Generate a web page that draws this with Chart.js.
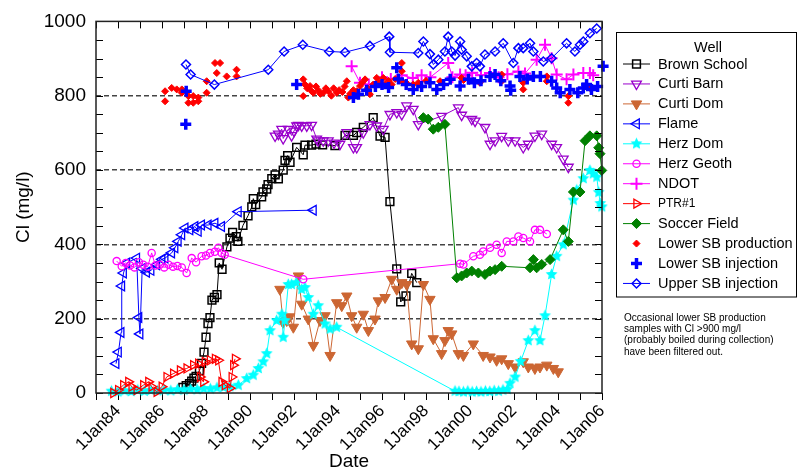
<!DOCTYPE html>
<html><head><meta charset="utf-8">
<script src="https://cdn.jsdelivr.net/npm/chart.js@4.4.0/dist/chart.umd.min.js"></script>
<style>html,body{margin:0;padding:0;background:#fff;overflow:hidden}canvas{display:block}</style>
</head><body>
<canvas id="c" width="797" height="471"></canvas>
<script>
const FONT = '"Liberation Sans", Arial, Helvetica, sans-serif';

// ---- tick labels ----
const xTickYears = [1984, 1986, 1988, 1990, 1992, 1994, 1996, 1998, 2000, 2002, 2004, 2006];
const xTickLabels = ['1Jan84', '1Jan86', '1Jan88', '1Jan90', '1Jan92', '1Jan94', '1Jan96', '1Jan98', '1Jan00', '1Jan02', '1Jan04', '1Jan06'];
const yTickLabels = [0, 200, 400, 600, 800, 1000];

const seriesNames = ['Brown School', 'Curti Barn', 'Curti Dom', 'Flame', 'Herz Dom', 'Herz Geoth', 'NDOT', 'PTR#1', 'Soccer Field', 'Lower SB production', 'Lower SB injection', 'Upper SB injection'];

// ---- data: [decimal year, Cl mg/l] ----
const brownSchool = [[1986.95,15],[1987.1,20],[1987.25,25],[1987.35,32],[1987.45,40],[1987.55,45],[1987.7,60],[1987.8,80],[1987.91,110],[1988.0,150],[1988.09,187],[1988.18,203],[1988.27,250],[1988.38,257],[1988.5,265],[1988.6,350],[1988.73,333],[1988.95,393],[1989.09,417],[1989.21,432],[1989.38,421],[1989.45,408],[1989.68,451],[1989.91,477],[1990.08,501],[1990.15,523],[1990.26,507],[1990.53,528],[1990.59,541],[1990.76,549],[1990.82,561],[1990.99,577],[1991.14,587],[1991.29,576],[1991.51,600],[1991.59,626],[1991.71,639],[1991.82,621],[1992.12,661],[1992.42,641],[1992.5,667],[1992.8,667],[1993.0,670],[1993.3,668],[1993.86,666],[1994.32,693],[1994.7,693],[1994.85,701],[1995.15,715],[1995.6,741],[1995.91,691],[1996.14,688],[1996.36,515],[1996.67,334],[1996.85,245],[1997.09,261],[1997.35,322],[1997.58,297]];
const curtiBarn = [[1991.14,692],[1991.29,697],[1991.44,710],[1991.51,685],[1991.74,710],[1991.89,693],[1992.0,705],[1992.12,719],[1992.2,721],[1992.35,719],[1992.58,719],[1992.8,721],[1993.03,684],[1993.1,679],[1993.33,679],[1993.56,679],[1993.82,673],[1994.09,670],[1994.4,701],[1994.7,661],[1994.85,661],[1995.15,701],[1995.45,723],[1995.76,719],[1996.06,710],[1996.36,750],[1996.67,755],[1996.9,750],[1997.12,773],[1997.42,764],[1997.65,723],[1998.71,745],[1999.47,768],[1999.62,748],[2000.08,737],[2000.23,732],[2000.68,715],[2000.91,670],[2001.14,679],[2001.44,691],[2001.74,679],[2002.05,679],[2002.42,661],[2002.65,670],[2002.95,692],[2003.26,697],[2003.71,670],[2003.94,661],[2004.24,630],[2004.47,608]];
const curtiDom = [[1991.36,279],[1991.5,190],[1991.67,195],[1991.8,205],[1991.97,177],[1992.2,315],[1992.35,239],[1992.65,199],[1992.88,128],[1993.18,195],[1993.41,208],[1993.64,101],[1993.94,243],[1994.17,235],[1994.4,261],[1994.62,208],[1994.85,177],[1995.15,212],[1995.38,168],[1995.68,199],[1995.83,248],[1996.14,257],[1996.44,306],[1996.67,279],[1996.9,297],[1997.12,292],[1997.35,132],[1997.65,119],[1997.88,292],[1998.18,252],[1998.33,146],[1998.71,106],[1998.86,141],[1999.01,168],[1999.17,159],[1999.47,106],[1999.7,101],[2000.15,132],[2000.6,101],[2000.91,97],[2001.21,88],[2001.44,92],[2001.74,79],[2002.05,70],[2002.42,84],[2002.65,70],[2002.95,66],[2003.18,70],[2003.49,75],[2003.79,66],[2004.01,57]];
const flame = [[1983.91,79],[1984.02,110],[1984.14,163],[1984.17,288],[1984.25,323],[1984.4,350],[1984.85,363],[1984.95,203],[1985.0,159],[1985.1,335],[1985.3,325],[1985.5,330],[1985.76,345],[1986.0,360],[1986.14,363],[1986.44,377],[1986.59,391],[1986.74,408],[1986.9,426],[1987.05,444],[1987.27,439],[1987.5,448],[1987.65,435],[1987.8,452],[1988.1,452],[1988.41,457],[1988.71,448],[1989.47,488],[1992.88,492]];
const herzDom = [[1983.7,5],[1984.0,3],[1984.3,6],[1984.6,4],[1984.9,8],[1985.2,5],[1985.5,7],[1985.8,6],[1986.1,8],[1986.4,6],[1986.7,9],[1987.0,8],[1987.3,10],[1987.6,9],[1987.9,12],[1988.2,11],[1988.5,14],[1988.8,15],[1989.09,17],[1989.47,21],[1989.85,39],[1990.15,48],[1990.38,66],[1990.6,84],[1990.76,106],[1990.91,168],[1991.21,195],[1991.45,212],[1991.51,150],[1991.59,195],[1991.74,292],[1991.89,292],[1992.1,297],[1992.35,279],[1992.5,284],[1992.65,257],[1992.88,212],[1993.1,235],[1993.41,186],[1993.64,172],[1993.94,177],[1999.32,5],[1999.5,4],[1999.7,3],[1999.9,5],[2000.1,3],[2000.3,4],[2000.5,3],[2000.7,5],[2000.9,4],[2001.1,6],[2001.3,5],[2001.5,8],[2001.7,10],[2001.82,26],[2002.05,43],[2002.3,85],[2002.65,141],[2002.95,168],[2003.18,141],[2003.41,208],[2003.71,319],[2003.94,368],[2004.24,399],[2004.7,519],[2004.85,546],[2005.15,577],[2005.45,599],[2005.6,590],[2005.76,581],[2005.85,540],[2005.92,510],[2005.99,501]];
const herzGeoth = [[1983.94,355],[1984.17,341],[1984.35,350],[1984.55,343],[1984.75,338],[1984.95,352],[1985.15,345],[1985.35,340],[1985.53,377],[1985.7,343],[1985.9,345],[1986.1,338],[1986.3,345],[1986.5,340],[1986.7,342],[1986.9,338],[1987.12,323],[1987.35,363],[1987.55,352],[1987.8,368],[1988.0,370],[1988.18,377],[1988.4,380],[1988.56,391],[1988.71,377],[1988.85,372],[1992.42,306],[1999.55,348],[1999.7,346],[2000.15,368],[2000.45,372],[2000.6,381],[2000.91,391],[2001.21,399],[2001.44,377],[2001.67,408],[2001.97,408],[2002.2,421],[2002.42,417],[2002.73,408],[2002.95,439],[2003.18,439],[2003.49,428]];
const ndot = [[1994.62,879],[1995.0,835],[1995.4,830],[1996.0,850],[1996.4,845],[1996.9,855],[1997.4,848],[1997.8,855],[1998.2,850],[1999.01,888],[1999.2,850],[1999.55,857],[1999.8,855],[2000.1,862],[2000.5,855],[2000.91,861],[2001.3,850],[2001.7,858],[2002.2,865],[2002.5,860],[2003.03,897],[2003.41,937],[2003.71,901],[2003.94,857],[2004.39,844],[2004.7,857],[2005.15,861],[2005.45,861],[2005.6,855]];
const ptr1 = [[1983.79,0],[1984.01,8],[1984.24,21],[1984.47,30],[1984.62,17],[1984.85,8],[1985.15,21],[1985.38,30],[1985.53,17],[1985.76,3],[1985.99,17],[1986.21,43],[1986.51,52],[1986.82,61],[1987.12,66],[1987.42,75],[1987.65,79],[1987.73,43],[1987.88,30],[1987.95,84],[1988.18,88],[1988.41,92],[1988.56,88],[1988.71,30],[1988.86,21],[1989.09,13],[1989.17,43],[1989.24,75],[1989.32,92]];
const soccerField = [[1997.88,741],[1998.1,737],[1998.33,710],[1998.56,715],[1998.86,723],[1999.4,310],[1999.62,315],[1999.85,323],[2000.08,328],[2000.38,323],[2000.68,319],[2000.91,328],[2001.14,332],[2001.44,341],[2002.73,337],[2002.88,359],[2003.03,337],[2003.26,346],[2003.64,359],[2004.24,439],[2004.47,408],[2004.7,541],[2005.0,541],[2005.23,679],[2005.45,692],[2005.76,692],[2005.85,660],[2005.91,644],[2005.99,599]];
const lowerSBProduction = [[1986.14,812],[1986.14,785],[1986.44,821],[1986.67,817],[1986.9,817],[1986.9,808],[1987.2,799],[1987.42,799],[1987.2,781],[1987.42,781],[1987.65,785],[1987.65,795],[1988.03,808],[1988.03,839],[1988.41,888],[1988.64,888],[1988.49,861],[1988.94,852],[1989.39,870],[1989.39,852],[1992.42,844],[1992.42,799],[1992.5,830],[1992.6,820],[1992.73,826],[1992.8,812],[1992.88,808],[1993.0,825],[1993.1,815],[1993.2,805],[1993.33,808],[1993.45,820],[1993.56,812],[1993.7,800],[1993.8,820],[1993.94,808],[1994.05,815],[1994.2,810],[1994.3,825],[1994.4,839],[1994.47,795],[1994.55,805],[1994.7,815],[1994.85,812],[1995.0,826],[1995.1,835],[1995.23,844],[1995.35,820],[1995.45,804],[1995.6,830],[1995.76,848],[1995.9,835],[1996.06,848],[1996.14,830],[1996.3,840],[1996.44,830],[1996.6,845],[1996.9,888],[1996.9,866],[1996.9,839],[1997.1,835],[1997.42,830],[1997.65,835],[1998.0,840],[1998.64,839],[1999.62,848],[1999.7,842],[2000.45,835],[2001.44,857],[2001.44,839],[2002.42,835],[2002.42,817],[2003.49,852],[2003.49,839],[2004.47,799],[2004.47,781],[2005.45,821]];
const lowerSBInjection = [[1987.08,723],[1987.1,812],[1992.12,830],[1994.7,795],[1994.93,804],[1995.3,815],[1995.7,825],[1996.0,830],[1996.3,822],[1996.67,875],[1996.75,845],[1997.1,830],[1997.42,817],[1997.8,825],[1998.18,835],[1998.49,817],[1998.8,830],[1999.1,844],[1999.55,826],[1999.93,844],[2000.2,835],[2000.5,840],[2000.91,852],[2001.14,857],[2001.4,840],[2001.82,826],[2001.85,815],[2002.27,852],[2002.6,845],[2002.88,852],[2003.2,852],[2003.71,839],[2003.94,821],[2004.1,808],[2004.54,817],[2004.9,808],[2005.15,821],[2005.3,830],[2005.52,817],[2005.8,825],[2006.05,879],[2006.05,817]];
const upperSBInjection = [[1987.09,884],[1987.3,857],[1988.38,830],[1990.83,870],[1991.55,919],[1992.4,937],[1993.6,919],[1994.32,917],[1995.45,934],[1996.33,959],[1996.36,917],[1997.65,915],[1997.88,946],[1998.18,912],[1998.33,884],[1998.56,897],[1998.86,919],[1999.01,959],[1999.17,919],[1999.32,908],[1999.55,946],[1999.62,924],[1999.85,906],[2000.08,879],[2000.3,888],[2000.45,879],[2000.68,911],[2001.14,919],[2001.51,941],[2001.97,888],[2002.2,928],[2002.42,928],[2002.73,941],[2002.88,919],[2003.33,892],[2003.71,901],[2004.39,941],[2004.77,919],[2005.0,937],[2005.15,946],[2005.45,968],[2005.76,981]];

const seriesData = [brownSchool, curtiBarn, curtiDom, flame, herzDom, herzGeoth, ndot, ptr1, soccerField, lowerSBProduction, lowerSBInjection, upperSBInjection];

// ---- styles ----
function makeStar(color, r) {
  const s = Math.ceil(r * 2 + 2);
  const c = document.createElement('canvas');
  c.width = s; c.height = s;
  const g = c.getContext('2d');
  g.beginPath();
  for (let i = 0; i < 10; i++) {
    const a = -Math.PI / 2 + i * Math.PI / 5;
    const rr = (i % 2) ? r * 0.48 : r;
    g.lineTo(s / 2 + rr * Math.cos(a), s / 2 + rr * Math.sin(a));
  }
  g.closePath(); g.fillStyle = color; g.fill();
  return c;
}
const T = 'rgba(0,0,0,0)';
const styles = [
  {color:'#000000', ps:'rect', rot:0, r:5.5, fill:T, bw:1.5, line:true},
  {color:'#9900cc', ps:'triangle', rot:180, r:5.6, fill:T, bw:1.3, line:true},
  {color:'#cc6633', ps:'triangle', rot:180, r:6, fill:'#cc6633', bw:1, line:true},
  {color:'#0000ff', ps:'triangle', rot:-90, r:5.6, fill:T, bw:1.3, line:true},
  {color:'#00ffff', ps:makeStar('#00ffff', 6.2), rot:0, r:6, fill:'#00ffff', bw:1, line:true},
  {color:'#ff00ff', ps:'circle', rot:0, r:3.6, fill:T, bw:1.3, line:true},
  {color:'#ff00ff', ps:'cross', rot:0, r:6, fill:T, bw:2, line:true},
  {color:'#ff0000', ps:'triangle', rot:90, r:5.2, fill:T, bw:1.3, line:true},
  {color:'#008000', ps:'rectRot', rot:0, r:5, fill:'#008000', bw:1, line:true},
  {color:'#ff0000', ps:'rectRot', rot:0, r:3.5, fill:'#ff0000', bw:1, line:false},
  {color:'#0000ff', ps:'cross', rot:0, r:5.5, fill:'#0000ff', bw:3.5, line:false},
  {color:'#0000ff', ps:'rectRot', rot:0, r:4.5, fill:T, bw:1.5, line:true}
];

const datasets = seriesData.map((arr, i) => {
  const st = styles[i];
  return {
    label: seriesNames[i],
    data: arr.map(p => ({x: p[0], y: p[1]})),
    showLine: st.line,
    borderColor: st.color,
    backgroundColor: st.fill,
    borderWidth: 1,
    tension: 0,
    pointStyle: st.ps,
    pointRotation: st.rot,
    pointRadius: st.r,
    pointBorderWidth: st.bw,
    pointBorderColor: st.color,
    pointBackgroundColor: st.fill,
    pointHoverRadius: st.r,
    order: seriesData.length - i,
    clip: false
  };
});

function xTickLabel(v) {
  const k = xTickYears.indexOf(v);
  return k >= 0 ? xTickLabels[k] : '';
}

const noteLines = ['Occasional lower SB production', 'samples with Cl >900 mg/l', '(probably boiled during collection)', 'have been filtered out.'];

const frameTicks = {
  id: 'frameTicks',
  afterDraw(chart) {
    const {ctx, chartArea: a, scales: {x, y}} = chart;
    ctx.save();
    ctx.strokeStyle = '#000';
    ctx.lineWidth = 1;
    const ln = (x1, y1, x2, y2) => { ctx.beginPath(); ctx.moveTo(x1, y1); ctx.lineTo(x2, y2); ctx.stroke(); };
    for (let v = 0; v <= 1000; v += 50) {
      const py = Math.round(y.getPixelForValue(v)) + 0.5;
      ln(a.left, py, a.left + 7, py);
      ln(a.right, py, a.right - 7, py);
    }
    for (let yr = 1983; yr <= 2006; yr++) {
      const px = Math.round(x.getPixelForValue(yr)) + 0.5;
      ln(px, a.top, px, a.top + 7);
    }
    ctx.lineWidth = 1.5;
    ctx.strokeStyle = '#222';
    ctx.strokeRect(a.left, a.top, a.right - a.left, a.bottom - a.top);
    ctx.restore();
  }
};

const wellLegend = {
  id: 'wellLegend',
  afterDraw(chart) {
    const ctx = chart.ctx;
    ctx.save();
    ctx.strokeStyle = '#000'; ctx.lineWidth = 1;
    ctx.strokeRect(616.5, 32.5, 180, 264.5);
    ctx.fillStyle = '#000';
    ctx.textBaseline = 'middle';
    ctx.textAlign = 'center';
    ctx.font = '14.5px ' + FONT;
    ctx.fillText('Well', 708, 48);
    ctx.textAlign = 'left';
    chart.data.datasets.forEach((ds, i) => {
      const yy = 64 + i * 19.95;
      if (ds.showLine) {
        ctx.strokeStyle = ds.borderColor; ctx.lineWidth = 1;
        ctx.beginPath(); ctx.moveTo(623, yy); ctx.lineTo(650, yy); ctx.stroke();
      }
      ctx.strokeStyle = ds.pointBorderColor;
      ctx.fillStyle = ds.pointBackgroundColor;
      ctx.lineWidth = ds.pointBorderWidth;
      Chart.helpers.drawPoint(ctx, {pointStyle: ds.pointStyle, rotation: ds.pointRotation, radius: ds.pointRadius, borderWidth: ds.pointBorderWidth}, 636.5, yy);
      ctx.fillStyle = '#000';
      ctx.font = (ds.label === 'PTR#1' ? '12px ' : '14.5px ') + FONT;
      ctx.fillText(ds.label, 658, yy + 0.5);
    });
    ctx.font = '10px ' + FONT;
    ctx.fillStyle = '#000';
    noteLines.forEach((t, i) => ctx.fillText(t, 624, 318 + i * 11.3));
    ctx.restore();
  }
};

new Chart(document.getElementById('c'), {
  type: 'scatter',
  data: { datasets },
  options: {
    responsive: false,
    animation: false,
    devicePixelRatio: 1,
    events: [],
    layout: { padding: { top: 18, right: 195, left: 0, bottom: 0 } },
    plugins: { legend: { display: false }, tooltip: { enabled: false } },
    scales: {
      x: {
        type: 'linear', min: 1983, max: 2006,
        afterFit: s => { s.height = 78; },
        ticks: { stepSize: 1, autoSkip: false, minRotation: 45, maxRotation: 45, color: '#000', padding: 1,
          font: { family: FONT, size: 17 }, callback: v => xTickLabel(v) },
        grid: { drawOnChartArea: false, drawTicks: true, tickLength: 7, color: '#000', tickColor: '#000', lineWidth: 1 },
        border: { display: false },
        title: { display: true, text: 'Date', color: '#000', font: { family: FONT, size: 19, lineHeight: 1 }, padding: { top: 0, bottom: 0 } }
      },
      y: {
        type: 'linear', min: 0, max: 1000,
        afterFit: s => { s.width = 96; },
        ticks: { stepSize: 50, autoSkip: false, color: '#000', padding: 10,
          font: { family: FONT, size: 19 }, callback: v => yTickLabels.includes(v) ? String(v) : '' },
        grid: { drawTicks: false, lineWidth: 1.4,
          color: c => (c.tick && c.tick.value % 200 === 0 && c.tick.value > 0 && c.tick.value < 1000) ? '#444' : 'rgba(0,0,0,0)' },
        border: { display: false, dash: [5, 3] },
        title: { display: true, text: 'Cl (mg/l)', color: '#000', font: { family: FONT, size: 19 }, padding: { top: 12, bottom: 0 } }
      }
    }
  },
  plugins: [frameTicks, wellLegend]
});
</script>
</body></html>
